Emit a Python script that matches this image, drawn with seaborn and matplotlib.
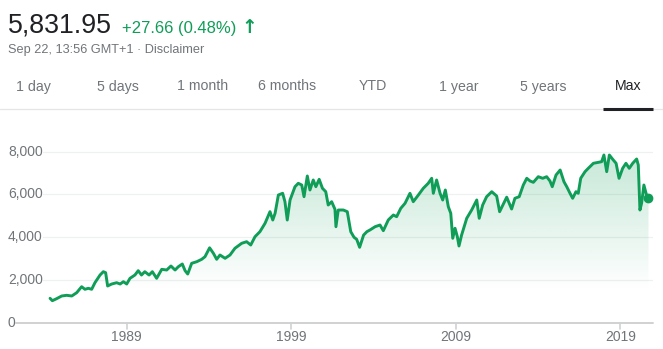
import numpy as np
import matplotlib
matplotlib.use("Agg")
import matplotlib.pyplot as plt
import matplotlib.transforms as mtransforms
import seaborn as sns

# Index level history (decimal year, closing level)
years = [1984.34, 1984.48, 1984.74, 1985.05, 1985.35, 1985.66, 1985.96, 1986.26,
         1986.46, 1986.67, 1986.87, 1987.07, 1987.38, 1987.58, 1987.72, 1987.84,
         1988.09, 1988.39, 1988.60, 1988.80, 1989.00, 1989.20, 1989.50, 1989.70,
         1989.90, 1990.10, 1990.36, 1990.56, 1990.82, 1991.13, 1991.43, 1991.69,
         1991.94, 1992.14, 1992.38, 1992.55, 1992.71, 1992.95, 1993.26, 1993.56,
         1993.76, 1994.04, 1994.27, 1994.47, 1994.67, 1994.98, 1995.28, 1995.58,
         1995.99, 1996.29, 1996.54, 1996.80, 1997.10, 1997.41, 1997.71, 1997.88,
         1998.02, 1998.22, 1998.48, 1998.62, 1998.76, 1998.93, 1999.23, 1999.43,
         1999.64, 1999.78, 1999.98, 2000.14, 2000.34, 2000.50, 2000.70, 2000.90,
         2001.10, 2001.25, 2001.46, 2001.66, 2001.72, 2001.86, 2002.17, 2002.41,
         2002.62, 2002.82, 2002.98, 2003.16, 2003.40, 2003.60, 2003.79, 2004.10,
         2004.40, 2004.60, 2004.90, 2005.21, 2005.41, 2005.66, 2005.92, 2006.22,
         2006.42, 2006.73, 2007.03, 2007.33, 2007.54, 2007.64, 2007.84, 2008.05,
         2008.21, 2008.37, 2008.55, 2008.70, 2008.82, 2008.96, 2009.10, 2009.20,
         2009.36, 2009.67, 2009.97, 2010.28, 2010.43, 2010.64, 2010.88, 2011.19,
         2011.49, 2011.67, 2011.89, 2012.10, 2012.30, 2012.40, 2012.60, 2012.86,
         2013.11, 2013.32, 2013.52, 2013.72, 2014.02, 2014.29, 2014.53, 2014.73,
         2014.87, 2015.10, 2015.35, 2015.58, 2015.75, 2015.95, 2016.11, 2016.31,
         2016.45, 2016.60, 2016.86, 2017.06, 2017.37, 2017.67, 2017.87, 2018.01,
         2018.18, 2018.34, 2018.58, 2018.75, 2018.93, 2019.15, 2019.35, 2019.55,
         2019.76, 2020.00, 2020.10, 2020.20, 2020.30, 2020.44, 2020.60, 2020.72]
levels = [1142, 1030, 1124, 1250, 1282, 1250, 1404, 1685,
          1563, 1610, 1563, 1872, 2232, 2387, 2340, 1718,
          1811, 1872, 1811, 1919, 1811, 2077, 2232, 2434,
          2232, 2387, 2232, 2387, 2077, 2498, 2466, 2653,
          2466, 2621, 2747, 2434, 2279, 2780, 2855, 2967,
          3089, 3505, 3248, 2967, 3168, 3014, 3168, 3482,
          3716, 3791, 3636, 4025, 4260, 4652, 5195, 4806,
          5120, 5976, 6056, 5663, 4806, 5742, 6365, 6524,
          6444, 5897, 6866, 6210, 6678, 6365, 6711, 6290,
          6131, 5508, 5663, 5307, 4493, 5274, 5274, 5195,
          4260, 3997, 3903, 3529, 4100, 4260, 4340, 4493,
          4572, 4306, 4806, 5040, 4961, 5352, 5588, 6056,
          5663, 5976, 6290, 6524, 6758, 6056, 6678, 6056,
          5742, 6210, 5429, 5120, 3950, 4418, 4025, 3590,
          4104, 4886, 5274, 5742, 4886, 5508, 5897, 6131,
          5929, 5195, 5548, 5874, 5508, 5321, 5822, 5897,
          6444, 6758, 6632, 6570, 6833, 6758, 6833, 6632,
          6365, 6912, 7146, 6599, 6365, 6056, 5822, 6131,
          6056, 6758, 7067, 7226, 7460, 7507, 7535, 7848,
          7067, 7848, 7614, 7460, 6758, 7226, 7460, 7226,
          7460, 7661, 7380, 5274, 5588, 6444, 5976, 5831.95]

y_ticks = [0, 2000, 4000, 6000, 8000]
y_tick_labels = ["0", "2,000", "4,000", "6,000", "8,000"]
x_ticks = [1989, 1999, 2009, 2019]
x_tick_labels = ["1989", "1999", "2009", "2019"]

last_price = "5,831.95"
change_text = "+27.66 (0.48%)"
stamp_text = "Sep 22, 13:56 GMT+1 \u00b7 Disclaimer"
ranges = ["1 day", "5 days", "1 month", "6 months", "YTD", "1 year", "5 years", "Max"]
range_centers = [33, 117.5, 203, 287.5, 372.7, 458.3, 542.8, 627.8]

GREEN = "#0f9d58"
DARK = "#202124"
GREY = "#70757a"

sns.set_style("white")
plt.rcParams["font.family"] = ["Liberation Sans", "DejaVu Sans"]

W, H = 663, 349
fig = plt.figure(figsize=(W / 100, H / 100), dpi=100)

# plot area in pixels
left_px, right_px = 16, 653
zero_px = 322.7
px_per_unit = 1 / 46.8
ymax = 8400
top_px = zero_px - ymax * px_per_unit
ax = fig.add_axes([left_px / W, 1 - zero_px / H,
                   (right_px - left_px) / W, (zero_px - top_px) / H])

# year -> pixel: 1989 at 126.7 px, 16.45 px per year
x0 = 1989 + (left_px - 126.7) / 16.45
x1 = 1989 + (right_px - 126.7) / 16.45
ax.set_xlim(x0, x1)
ax.set_ylim(0, ymax)
for s in ax.spines.values():
    s.set_visible(False)
ax.set_xticks([])
ax.set_yticks([])

# light gridlines starting just after their labels
gx = (43 - left_px) / (right_px - left_px)
for v in y_ticks[1:]:
    ax.axhline(v, xmin=gx, xmax=1, color="#eef0f1", lw=0.9, zorder=0)
ax.axhline(0, color="#cfd1d3", lw=1.4, zorder=3, clip_on=False)

# tick marks and labels
for xv, lab in zip(x_ticks, x_tick_labels):
    ax.plot([xv, xv], [0, -6 / px_per_unit], color="#cfd1d3", lw=1.2,
            clip_on=False, zorder=3)
    ax.text(xv, -14 / px_per_unit, lab, ha="center", va="center",
            fontsize=10, color=GREY)
ytrans = mtransforms.blended_transform_factory(fig.transFigure, ax.transData)
for v, lab in zip(y_ticks, y_tick_labels):
    ax.text(8 / W, v, lab, transform=ytrans, ha="left", va="center",
            fontsize=10, color=GREY)

# gradient fill under the line
poly = ax.fill_between(years, levels, 0, color="none", lw=0)
n = 256
grad = np.zeros((n, 1, 4))
grad[..., :3] = matplotlib.colors.to_rgb(GREEN)
yy = np.linspace(ymax, 0, n)
grad[:, 0, 3] = np.clip((yy - 1500) / (8000 - 1500), 0, 1) * 0.24
im = ax.imshow(grad, extent=[years[0], years[-1], 0, ymax], aspect="auto",
               origin="upper", zorder=1, interpolation="bilinear")
im.set_clip_path(poly.get_paths()[0], transform=ax.transData)

sns.lineplot(x=years, y=levels, ax=ax, color=GREEN, lw=2.1, zorder=4,
             estimator=None, sort=False)
ax.plot(years[-1], levels[-1], "o", color=GREEN, ms=6, zorder=5)
ax.set_xlabel("")
ax.set_ylabel("")

# header
fig.text(8 / W, 1 - 33 / H, last_price, fontsize=19.3, color=DARK, va="baseline")
fig.text(122 / W, 1 - 33 / H, change_text, fontsize=12, color=GREEN, va="baseline")
fig.text(241.5 / W, 1 - 33 / H, "\u2191", fontsize=13.5, color=GREEN,
         va="baseline", fontweight="bold", family="DejaVu Sans")
fig.text(8 / W, 1 - 53 / H, stamp_text, fontsize=9.2, color=GREY, va="baseline")

for lab, cx in zip(ranges, range_centers):
    fig.text(cx / W, 1 - 90.5 / H, lab, fontsize=10.2, ha="center",
             va="baseline", color=DARK if lab == "Max" else GREY)

fig.add_artist(plt.Line2D([0, 1], [1 - 109.5 / H] * 2, color="#e4e5e7", lw=0.9))
fig.add_artist(plt.Line2D([602.7 / W, 653 / W], [1 - 108.8 / H] * 2,
                          color=DARK, lw=2.2, solid_capstyle="butt"))

fig.savefig("out.png", dpi=100)
